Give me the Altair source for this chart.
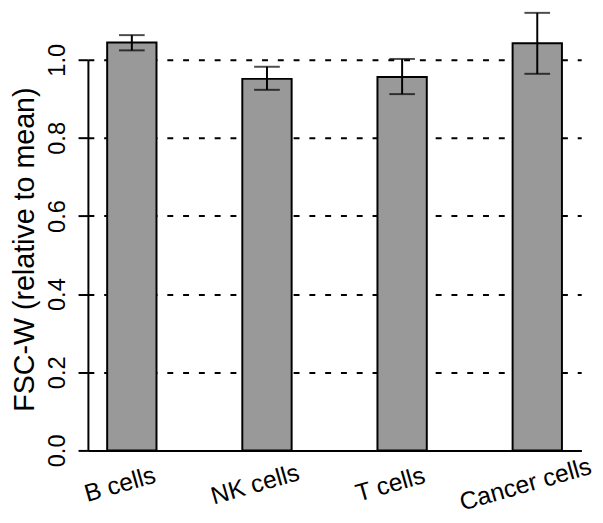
import altair as alt
import pandas as pd

cells = ["B cells", "NK cells", "T cells", "Cancer cells"]
means = [1.044, 0.951, 0.956, 1.042]
lower = [1.024, 0.923, 0.912, 0.964]
upper = [1.063, 0.982, 1.002, 1.120]
y_ticks = [0.0, 0.2, 0.4, 0.6, 0.8, 1.0]

df = pd.DataFrame({"cell": cells, "mean": means, "lo": lower, "hi": upper})

FONT = "Liberation Sans"

x_enc = alt.X(
    "cell:N",
    sort=cells,
    scale=alt.Scale(paddingInner=0.635, paddingOuter=0.1425),
    axis=alt.Axis(
        title=None,
        ticks=False,
        tickSize=0,
        domain=True,
        domainColor="black",
        domainWidth=2,
        grid=False,
        labelAngle=344,
        labelAlign="center",
        labelBaseline="middle",
        labelPadding=34,
        labelOffset=-12,
        labelFont=FONT,
        labelFontSize=25,
        labelColor="black",
        labelOverlap=False,
        labelFlush=False,
    ),
)

y_scale = alt.Scale(domain=[0, 1])

bars = alt.Chart(df).mark_bar(
    color="#999999", stroke="black", strokeWidth=2, clip=False
).encode(
    x=x_enc,
    y=alt.Y(
        "mean:Q",
        scale=y_scale,
        axis=alt.Axis(
            values=y_ticks,
            format=".1f",
            labelAngle=270,
            labelAlign="center",
            labelBaseline="alphabetic",
            labelPadding=14,
            labelFont=FONT,
            labelFontSize=24,
            labelColor="black",
            tickSize=10,
            tickWidth=2,
            tickColor="black",
            domainColor="black",
            domainWidth=2,
            grid=True,
            gridColor="black",
            gridDash=[6, 10],
            gridWidth=2,
            title="FSC-W (relative to mean)",
            titleFont=FONT,
            titleFontSize=29,
            titleFontWeight="normal",
            titleColor="black",
            titleAngle=270,
            titleAlign="center",
            titleBaseline="alphabetic",
            titleX=-55,
            titleY=192,
        ),
    ),
)

err = alt.Chart(df).mark_rule(color="black", strokeWidth=2).encode(
    x=alt.X("cell:N", sort=cells),
    y=alt.Y("lo:Q", scale=y_scale),
    y2="hi:Q",
)

cap_lo = alt.Chart(df).mark_tick(color="black", thickness=2, size=26).encode(
    x=alt.X("cell:N", sort=cells),
    y=alt.Y("lo:Q", scale=y_scale),
)
cap_hi = alt.Chart(df).mark_tick(color="black", thickness=2, size=26).encode(
    x=alt.X("cell:N", sort=cells),
    y=alt.Y("hi:Q", scale=y_scale),
)

chart = (
    alt.layer(bars, err, cap_lo, cap_hi)
    .properties(
        width=500,
        height=396,
        autosize=alt.AutoSizeParams(type="none"),
        padding={"left": 81, "top": 49, "right": 14, "bottom": 60},
    )
    .configure_view(stroke=None)
)

chart.save("out.html", embed_options={"renderer": "svg", "actions": False})
